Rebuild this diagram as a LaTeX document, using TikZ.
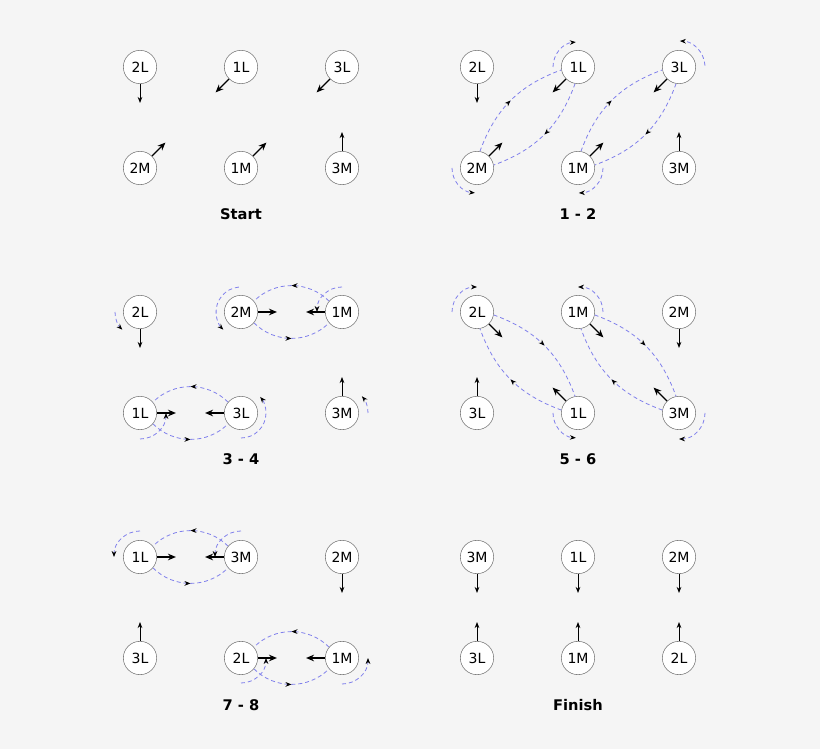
\documentclass[tikz,border=0pt]{standalone}
\usepackage{fontspec}
\setsansfont{DejaVu Sans}
\usepackage{xcolor}
\usetikzlibrary{arrows.meta,positioning,calc,decorations.markings}

\definecolor{pathblue}{RGB}{128,128,236}
\definecolor{paper}{RGB}{245,245,245}

\begin{document}
\begin{tikzpicture}[x=0.75pt,y=0.75pt,
    disc/.style={circle, draw=black!55, fill=white, minimum size=25pt, inner sep=0pt, font=\sffamily\fontsize{10.5}{12}\selectfont},
    drift/.style={-{Stealth[length=4.5pt,width=3.5pt]}, line width=0.6pt},
    push/.style={-{Stealth[length=6pt,width=5pt]}, line width=0.9pt},
    trade/.style={pathblue, dash pattern=on 3pt off 2.2pt, line width=0.6pt, postaction={decorate},
        decoration={markings, mark=at position 0.5 with {\arrow{Stealth[black,length=4.5pt,width=3.5pt]}}}},
    curl/.style={pathblue, dash pattern=on 3pt off 2.2pt, line width=0.6pt, -{Stealth[black,length=4.5pt,width=3.5pt]}},
    panel/.style={font=\sffamily\bfseries\fontsize{11}{13}\selectfont, anchor=base}]
    % Background
    \fill[paper] (0,0) rectangle (820,749);

    % Start
    \foreach \n/\x/\y/\a/\s in {2L/140/682/-90/drift, 1L/241/682/-135/push, 3L/342/682/-135/push,
        2M/140/581/45/push, 1M/241/581/45/push, 3M/342/581/90/drift}{
        \node[disc] (s\n) at (\x,\y) {\n};
        \draw[\s] (s\n.\a) -- ++(\a:19);
    }
    \node[panel] (start) at (241,529) {Start};

    % Steps 1 - 2
    \foreach \n/\x/\y/\a/\s in {2L/477/682/-90/drift, 1L/578/682/-135/push, 3L/679/682/-135/push,
        2M/477/581/45/push, 1M/578/581/45/push, 3M/679/581/90/drift}{
        \node[disc] (a\n) at (\x,\y) {\n};
        \draw[\s] (a\n.\a) -- ++(\a:19);
    }
    \draw[trade] (a2M.80) to[out=70,in=200] (a1L.190);
    \draw[trade] (a1L.260) to[out=250,in=20] (a2M.10);
    \draw[trade] (a1M.80) to[out=70,in=200] (a3L.190);
    \draw[trade] (a3L.260) to[out=250,in=20] (a1M.10);
    \draw[curl] ($(a1L)+(180:25)$) arc[start angle=180, end angle=95, radius=25];
    \draw[curl] ($(a2M)+(180:25)$) arc[start angle=180, end angle=265, radius=25];
    \draw[curl] ($(a3L)+(3:26)$) arc[start angle=3, end angle=88, radius=26];
    \draw[curl] ($(a1M)+(0:25)$) arc[start angle=0, end angle=-88, radius=25];
    \node[panel] (one) at (578,529) {1 - 2};

    % Steps 3 - 4
    \foreach \n/\x/\y/\a/\s in {2L/140/437/-90/drift, 2M/241/437/0/push, 1M/342/437/180/push,
        1L/140/336/0/push, 3L/241/336/180/push, 3M/342/336/90/drift}{
        \node[disc] (b\n) at (\x,\y) {\n};
        \draw[\s] (b\n.\a) -- ++(\a:19);
    }
    \draw[trade] (b1M.140) to[out=135,in=45] (b2M.40);
    \draw[trade] (b2M.-40) to[out=-45,in=-135] (b1M.220);
    \draw[trade] (b3L.140) to[out=135,in=45] (b1L.40);
    \draw[trade] (b1L.-40) to[out=-45,in=-135] (b3L.220);
    \draw[curl] ($(b2L)+(180:25)$) arc[start angle=180, end angle=225, radius=25];
    \draw[curl] ($(b2M)+(95:25)$) arc[start angle=95, end angle=225, radius=25];
    \draw[curl] ($(b1M)+(90:25)$) arc[start angle=90, end angle=180, radius=25];
    \draw[curl] ($(b1L)+(270:26)$) arc[start angle=270, end angle=360, radius=26];
    \draw[curl] ($(b3L)+(270:25)$) arc[start angle=270, end angle=400, radius=25];
    \draw[curl] ($(b3M)+(0:26)$) arc[start angle=0, end angle=40, radius=26];
    \node[panel] (three) at (241,284) {3 - 4};

    % Steps 5 - 6
    \foreach \n/\x/\y/\a/\s in {2L/477/437/-45/push, 1M/578/437/-45/push, 2M/679/437/-90/drift,
        3L/477/336/90/drift, 1L/578/336/135/push, 3M/679/336/135/push}{
        \node[disc] (c\n) at (\x,\y) {\n};
        \draw[\s] (c\n.\a) -- ++(\a:19);
    }
    \draw[trade] (c2L.-10) to[out=-20,in=110] (c1L.100);
    \draw[trade] (c1L.170) to[out=160,in=-70] (c2L.-80);
    \draw[trade] (c1M.-10) to[out=-20,in=110] (c3M.100);
    \draw[trade] (c3M.170) to[out=160,in=-70] (c1M.-80);
    \draw[curl] ($(c2L)+(180:25)$) arc[start angle=180, end angle=90, radius=25];
    \draw[curl] ($(c1M)+(0:25)$) arc[start angle=0, end angle=90, radius=25];
    \draw[curl] ($(c1L)+(180:25)$) arc[start angle=180, end angle=265, radius=25];
    \draw[curl] ($(c3M)+(0:26)$) arc[start angle=0, end angle=-90, radius=26];
    \node[panel] (five) at (578,284) {5 - 6};

    % Steps 7 - 8
    \foreach \n/\x/\y/\a/\s in {1L/140/192/0/push, 3M/241/192/180/push, 2M/342/192/-90/drift,
        3L/140/91/90/drift, 2L/241/91/0/push, 1M/342/91/180/push}{
        \node[disc] (d\n) at (\x,\y) {\n};
        \draw[\s] (d\n.\a) -- ++(\a:19);
    }
    \draw[trade] (d3M.140) to[out=135,in=45] (d1L.40);
    \draw[trade] (d1L.-40) to[out=-45,in=-135] (d3M.220);
    \draw[trade] (d1M.140) to[out=135,in=45] (d2L.40);
    \draw[trade] (d2L.-40) to[out=-45,in=-135] (d1M.220);
    \draw[curl] ($(d1L)+(90:26)$) arc[start angle=90, end angle=180, radius=26];
    \draw[curl] ($(d3M)+(90:26)$) arc[start angle=90, end angle=180, radius=26];
    \draw[curl] ($(d2L)+(270:25)$) arc[start angle=270, end angle=360, radius=25];
    \draw[curl] ($(d1M)+(270:26)$) arc[start angle=270, end angle=360, radius=26];
    \node[panel] (seven) at (241,39) {7 - 8};

    % Finish
    \foreach \n/\x/\y/\a in {3M/477/192/-90, 1L/578/192/-90, 2M/679/192/-90,
        3L/477/91/90, 1M/578/91/90, 2L/679/91/90}{
        \node[disc] (f\n) at (\x,\y) {\n};
        \draw[drift] (f\n.\a) -- ++(\a:19);
    }
    \node[panel] (finish) at (578,39) {Finish};
\end{tikzpicture}
\end{document}
